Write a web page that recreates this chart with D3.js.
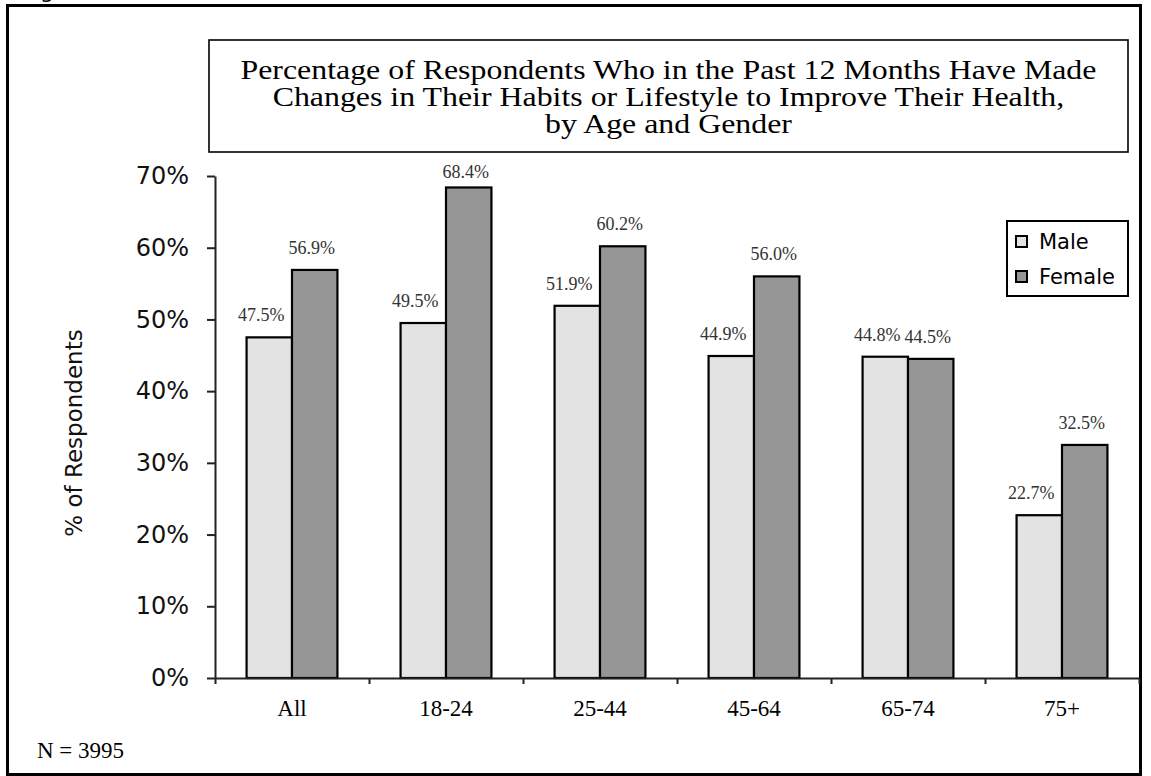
<!DOCTYPE html>
<html>
<head>
<meta charset="utf-8">
<script src="https://cdn.jsdelivr.net/npm/d3@7"></script>
<style>
  html, body { margin: 0; padding: 0; background: #fff; }
  svg { display: block; }
</style>
</head>
<body>
<div id="chart"></div>
<script>
// ---- data ----
const categories = ["All", "18-24", "25-44", "45-64", "65-74", "75+"];
const seriesNames = ["Male", "Female"];
const maleValues = [47.5, 49.5, 51.9, 44.9, 44.8, 22.7];
const femaleValues = [56.9, 68.4, 60.2, 56.0, 44.5, 32.5];
const yTickValues = [0, 10, 20, 30, 40, 50, 60, 70];
const titleLines = [
  "Percentage of Respondents Who in the Past 12 Months Have Made",
  "Changes in Their Habits or Lifestyle to Improve Their Health,",
  "by Age and Gender"
];
const yAxisLabel = "% of Respondents";
const footnote = "N = 3995";

// ---- layout ----
const W = 1151, H = 776;
const plot = { left: 215, right: 1139, top: 176, bottom: 678 };
const colors = { Male: "#e3e3e3", Female: "#969696" };
const serif = "'Liberation Serif', 'Times New Roman', serif";
const sans = "'DejaVu Sans', Verdana, sans-serif";

const svg = d3.select("#chart").append("svg")
  .attr("width", W).attr("height", H);

svg.append("rect").attr("width", W).attr("height", H).attr("fill", "#fff");

// cut-off glyph at top-left (remnant of a caption above the frame)
svg.append("text").attr("x", 40).attr("y", -2)
  .attr("font-family", sans).attr("font-size", 22).text("g");

// outer frame
svg.append("rect")
  .attr("x", 7.5).attr("y", 5.5).attr("width", 1133).attr("height", 769)
  .attr("fill", "none").attr("stroke", "#000").attr("stroke-width", 3);

// title box
svg.append("rect")
  .attr("x", 209).attr("y", 40).attr("width", 919).attr("height", 112)
  .attr("fill", "#fff").attr("stroke", "#000").attr("stroke-width", 1.6);

const titleText = svg.append("g").selectAll("text").data(titleLines).join("text")
  .attr("x", 668.5)
  .attr("y", (d, i) => 79 + i * 27)
  .attr("text-anchor", "middle")
  .attr("font-family", serif).attr("font-size", 27)
  .attr("fill", "#000")
  .text(d => d);
// widen glyphs horizontally as in the original
titleText.each(function () {
  const w = this.getComputedTextLength();
  d3.select(this).attr("textLength", w * 1.18).attr("lengthAdjust", "spacingAndGlyphs");
});

// scales
const y = d3.scaleLinear().domain([0, 70]).range([plot.bottom, plot.top]);
const x = d3.scaleBand().domain(categories)
  .range([plot.left, plot.right]).paddingInner(0.41).paddingOuter(0.205);
const xs = d3.scaleBand().domain(seriesNames).range([0, x.bandwidth()]);
const xb = d3.scaleLinear().domain([0, categories.length]).range([plot.left, plot.right]);

const rows = categories.map((c, i) => ({ cat: c, Male: maleValues[i], Female: femaleValues[i] }));

// bars
const groups = svg.append("g").selectAll("g").data(rows).join("g")
  .attr("transform", d => `translate(${x(d.cat)},0)`);

groups.selectAll("rect").data(d => seriesNames.map(s => ({ s, v: d[s] }))).join("rect")
  .attr("x", d => xs(d.s))
  .attr("y", d => y(d.v))
  .attr("width", xs.bandwidth())
  .attr("height", d => y(0) - y(d.v))
  .attr("fill", d => colors[d.s])
  .attr("stroke", "#000").attr("stroke-width", 2.2);

// value labels
const labelOffset = { Male: -8, Female: -3 };
groups.selectAll("text").data(d => seriesNames.map(s => ({ s, v: d[s] }))).join("text")
  .attr("x", d => xs(d.s) + xs.bandwidth() / 2 + labelOffset[d.s])
  .attr("y", d => Math.max(y(d.v) - 16, plot.top + 2))
  .attr("text-anchor", "middle")
  .attr("font-family", serif).attr("font-size", 18)
  .attr("fill", "#333")
  .text(d => d.v.toFixed(1) + "%");

// y axis
const yAxis = svg.append("g")
  .attr("transform", `translate(${plot.left},0)`)
  .call(d3.axisLeft(y).tickValues(yTickValues).tickSize(8).tickSizeOuter(0)
    .tickPadding(18).tickFormat(d => d + "%"));
yAxis.select(".domain").attr("stroke", "#222").attr("stroke-width", 2);
yAxis.selectAll(".tick line").attr("stroke", "#222").attr("stroke-width", 2);
yAxis.selectAll(".tick text").attr("font-family", sans).attr("font-size", 24).attr("fill", "#111");

// x axis: boundary ticks
const xAxisTicks = svg.append("g")
  .attr("transform", `translate(0,${plot.bottom})`)
  .call(d3.axisBottom(xb).ticks(categories.length).tickSize(6).tickSizeOuter(0).tickFormat(""));
xAxisTicks.select(".domain").attr("stroke", "#222").attr("stroke-width", 2.2);
xAxisTicks.selectAll(".tick line").attr("stroke", "#222").attr("stroke-width", 2);

// x axis: category labels
const xAxisLabels = svg.append("g")
  .attr("transform", `translate(0,${plot.bottom})`)
  .call(d3.axisBottom(x).tickSize(0).tickPadding(22));
xAxisLabels.select(".domain").remove();
xAxisLabels.selectAll(".tick text").attr("font-family", serif).attr("font-size", 23).attr("fill", "#000");

// y axis label
svg.append("text")
  .attr("transform", "translate(82,433) rotate(-90)")
  .attr("text-anchor", "middle")
  .attr("font-family", sans).attr("font-size", 23).attr("fill", "#111")
  .text(yAxisLabel);

// legend
const legend = svg.append("g");
legend.append("rect")
  .attr("x", 1007).attr("y", 221).attr("width", 121).attr("height", 75)
  .attr("fill", "#fff").attr("stroke", "#000").attr("stroke-width", 2);
const li = legend.selectAll("g").data(seriesNames).join("g")
  .attr("transform", (d, i) => `translate(1016,${236 + i * 35})`);
li.append("rect").attr("width", 11).attr("height", 11)
  .attr("fill", d => colors[d]).attr("stroke", "#000").attr("stroke-width", 2);
li.append("text").attr("x", 23).attr("y", 13)
  .attr("font-family", sans).attr("font-size", 21).attr("fill", "#000")
  .text(d => d);

// footnote
svg.append("text").attr("x", 37).attr("y", 758)
  .attr("font-family", serif).attr("font-size", 23).attr("fill", "#000")
  .text(footnote);
</script>
</body>
</html>
